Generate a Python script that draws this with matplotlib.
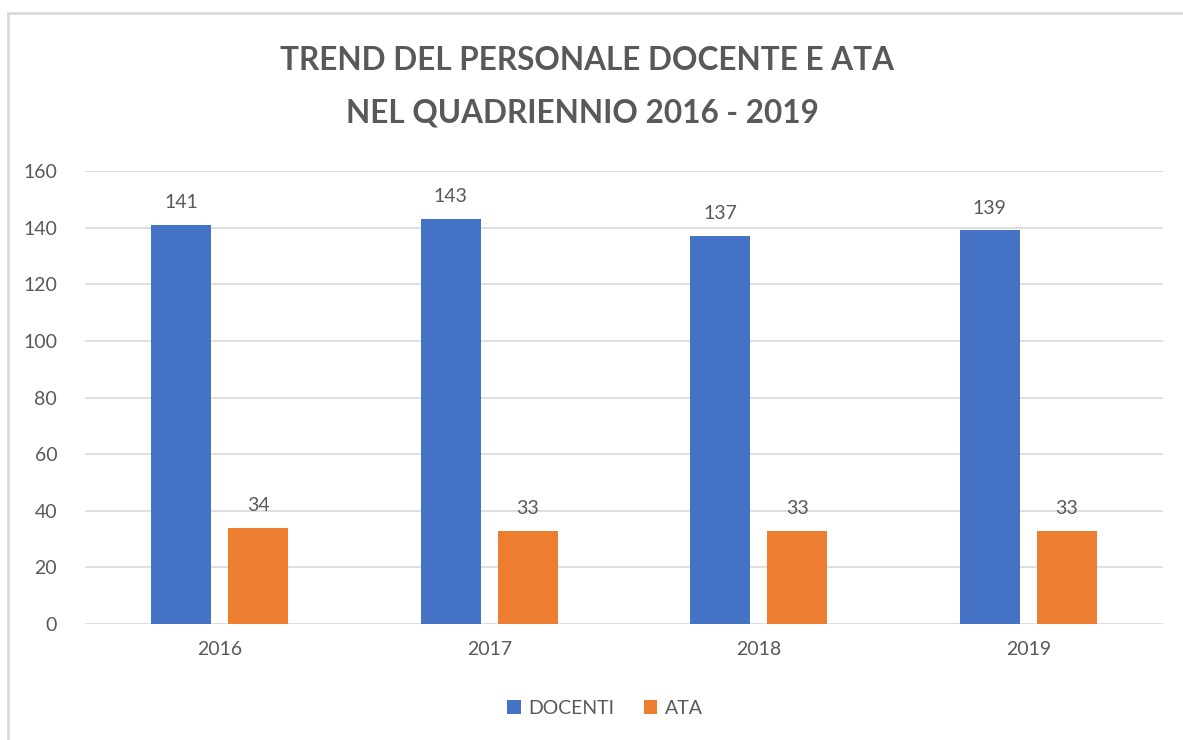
import matplotlib.pyplot as plt
import numpy as np
from matplotlib.patches import Rectangle

plt.rcParams['font.family'] = ['Lato', 'DejaVu Sans']

YEARS = ["2016", "2017", "2018", "2019"]
DOCENTI = [141, 143, 137, 139]
ATA = [34, 33, 33, 33]

BLUE = "#4472C4"
ORANGE = "#ED7D31"
GREY = "#595959"

fig = plt.figure(figsize=(11.83, 7.4), dpi=100)
fig.patches.append(Rectangle((8 / 1183, -0.1), 1.2, (740 - 13) / 740 + 0.1, transform=fig.transFigure,
                             fill=False, edgecolor="#D9D9D9", linewidth=2))

ax = fig.add_axes([85 / 1183, 1 - 624 / 740, (1163 - 85) / 1183, (624 - 171) / 740])
x = np.arange(len(YEARS))
width = 0.223
r1 = ax.bar(x - 0.143, DOCENTI, width, color=BLUE, label="DOCENTI", zorder=3)
r2 = ax.bar(x + 0.143, ATA, width, color=ORANGE, label="ATA", zorder=3)
ax.bar_label(r1, padding=10, fontsize=14, color=GREY)
ax.bar_label(r2, padding=10, fontsize=14, color=GREY)

ax.set_xlim(-0.5, 3.5)
ax.set_ylim(0, 160)
ax.set_yticks(range(0, 161, 20))
ax.set_xticks(x, YEARS)
ax.grid(axis="y", color="#D9D9D9", linewidth=1.2, zorder=0)
for s in ax.spines.values():
    s.set_visible(False)
ax.tick_params(length=0, labelsize=14, labelcolor=GREY)
ax.tick_params(axis="y", pad=20)
ax.tick_params(axis="x", pad=12)

fig.text(587 / 1183, 1 - 60 / 740, "TREND DEL PERSONALE DOCENTE E ATA", ha="center", va="center",
         fontsize=22.7, fontweight="bold", color=GREY)
fig.text(582 / 1183, 1 - 113 / 740, "NEL QUADRIENNIO 2016 - 2019", ha="center", va="center",
         fontsize=22.7, fontweight="bold", color=GREY)

fig.legend(loc="center", bbox_to_anchor=(605 / 1183, 1 - 708 / 740), ncol=2, frameon=False,
           fontsize=14, labelcolor=GREY, handlelength=0.7, handleheight=0.7, columnspacing=1.5,
           handletextpad=0.4)

fig.savefig("out.png", dpi=100)
